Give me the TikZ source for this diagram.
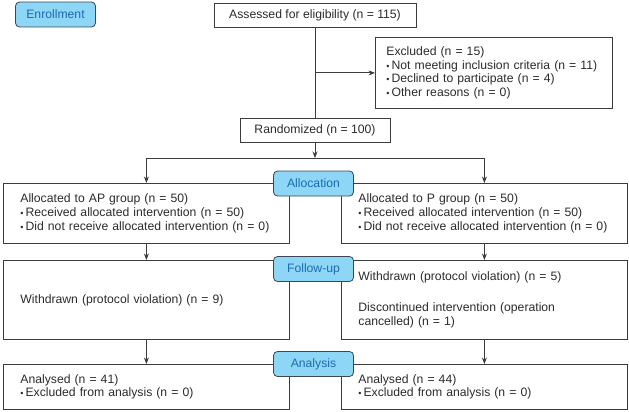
\documentclass[tikz,border=0pt]{standalone}
\usepackage{fontspec}
\setmainfont{Liberation Sans}
\usetikzlibrary{arrows.meta}

\definecolor{stagefill}{HTML}{8DD6F5}
\definecolor{stageline}{HTML}{3B4754}
\definecolor{stagetext}{HTML}{1B6CB0}
\definecolor{boxline}{HTML}{3C3C3C}
\definecolor{boxtext}{HTML}{2B2B2B}

\newcommand{\itm}{{\small\textbullet}\,}

\tikzset{
  stage/.style={draw=stageline, fill=stagefill, text=stagetext, rounded corners=4pt,
    line width=0.8pt, minimum width=80pt, minimum height=25pt, inner sep=0pt,
    font=\fontsize{12.2}{13.6}\selectfont},
  flowbox/.style={draw=boxline, text=boxtext, line width=0.8pt, inner ysep=2pt,
    font=\fontsize{12.2}{13.6}\selectfont},
  armbox/.style={flowbox, anchor=north west, inner xsep=17pt, text width=252pt, align=left},
  link/.style={draw=boxline, line width=0.8pt, -{Stealth[length=6.5pt,width=5pt]}}
}

\begin{document}
\begin{tikzpicture}[x=1pt,y=-1pt]
  \useasboundingbox (0,0) rectangle (629,412);

  % Enrollment
  \node[stage] (enrol) at (55.5,14.5) {Enrollment};
  \node[flowbox, minimum width=202pt, minimum height=24pt] (assess) at (315,15)
    {Assessed for eligibility (n = 115)};
  \node[flowbox, anchor=north west, minimum height=71pt, inner xsep=11pt,
    text width=215pt, align=left] (excl) at (375,37)
    {Excluded (n = 15)\\
     \itm Not meeting inclusion criteria (n = 11)\\
     \itm Declined to participate (n = 4)\\
     \itm Other reasons (n = 0)};
  \node[flowbox, minimum width=150pt, minimum height=24pt] (rand) at (315,130)
    {Randomized (n = 100)};

  \coordinate (fork) at (assess.south |- excl.west);
  \draw[draw=boxline, line width=0.8pt] (assess) -- (rand);
  \draw[link] (fork) -- (excl.west);

  % Allocation
  \coordinate (split) at (315,158);
  \draw[link] (rand) -- (split);

  \node[armbox, minimum height=60pt] (apalloc) at (3,183)
    {Allocated to AP group (n = 50)\\
     \itm Received allocated intervention (n = 50)\\
     \itm Did not receive allocated intervention (n = 0)};
  \node[armbox, minimum height=60pt] (palloc) at (341,183)
    {Allocated to P group (n = 50)\\
     \itm Received allocated intervention (n = 50)\\
     \itm Did not receive allocated intervention (n = 0)};

  \draw[link] (split) -| (apalloc.north);
  \draw[link] (split) -| (palloc.north);
  \node[stage] (alloc) at (313.5,183.5) {Allocation};

  % Follow-up
  \node[armbox, minimum height=79pt] (apfollow) at (3,260)
    {\raisebox{-5pt}{Withdrawn (protocol violation) (n = 9)}};
  \node[armbox, minimum height=79pt] (pfollow) at (341,260)
    {Withdrawn (protocol violation) (n = 5)\\[17pt]
     Discontinued intervention (operation\\
     cancelled) (n = 1)};

  \draw[link] (apalloc) -- (apfollow);
  \draw[link] (palloc) -- (pfollow);
  \node[stage] (follow) at (313.5,269) {Follow-up};

  % Analysis
  \node[armbox, minimum height=45pt] (apanal) at (3,364)
    {Analysed (n = 41)\\
     \itm Excluded from analysis (n = 0)};
  \node[armbox, minimum height=45pt] (panal) at (341,364)
    {Analysed (n = 44)\\
     \itm Excluded from analysis (n = 0)};

  \draw[link] (apfollow) -- (apanal);
  \draw[link] (pfollow) -- (panal);
  \node[stage] (anal) at (313.5,364) {Analysis};

\end{tikzpicture}
\end{document}
